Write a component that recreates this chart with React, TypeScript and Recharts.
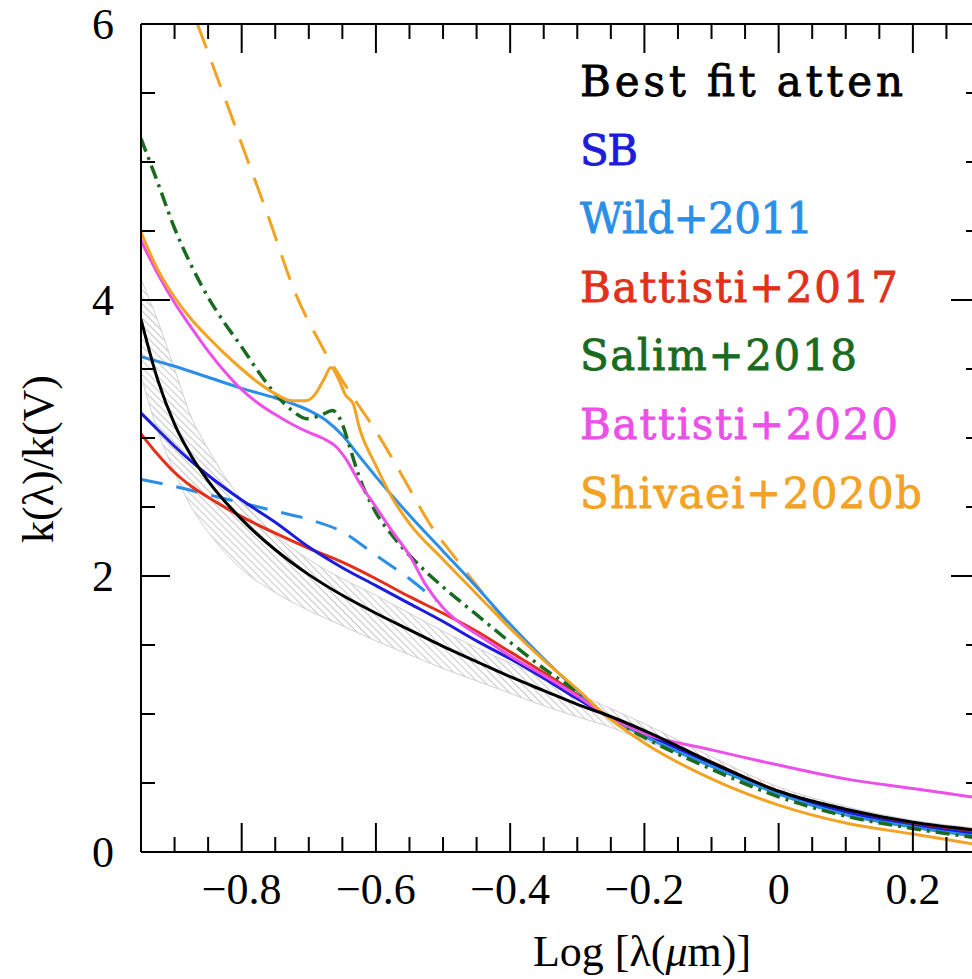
import React from 'react'
import { ComposedChart, Line, Area, XAxis, YAxis } from 'recharts'

// log10(lambda / micron) grid shared by the smoother curves
const gridX = [-0.95, -0.925, -0.9, -0.875, -0.85, -0.8, -0.75, -0.7, -0.65, -0.6, -0.55, -0.5, -0.45, -0.4, -0.35, -0.3, -0.26, -0.2, -0.1, 0, 0.1, 0.2, 0.3]

// best fit attenuation curve and its hatched range
const bestFit = [3.86, 3.42, 3.1, 2.87, 2.69, 2.41, 2.19, 2.01, 1.86, 1.73, 1.61, 1.49, 1.38, 1.27, 1.17, 1.07, 1.0, 0.88, 0.65, 0.44, 0.31, 0.215, 0.155]
const bandLow = [3.45, 3.05, 2.75, 2.5, 2.32, 2.05, 1.88, 1.75, 1.64, 1.53, 1.43, 1.33, 1.24, 1.15, 1.06, 0.98, 0.92, 0.81, 0.62, 0.42, 0.29, 0.2, 0.14]
const bandHigh = [4.15, 3.85, 3.5, 3.15, 2.92, 2.55, 2.3, 2.12, 1.98, 1.86, 1.73, 1.6, 1.48, 1.37, 1.26, 1.15, 1.06, 0.93, 0.69, 0.47, 0.33, 0.23, 0.17]

const sb = [3.18, 3.06, 2.94, 2.83, 2.73, 2.55, 2.39, 2.21, 2.06, 1.93, 1.8, 1.67, 1.53, 1.4, 1.26, 1.11, 1.0, 0.86, 0.64, 0.43, 0.29, 0.19, 0.13]
const battisti17 = [3.03, 2.88, 2.75, 2.65, 2.57, 2.43, 2.31, 2.2, 2.1, 1.98, 1.85, 1.73, 1.6, 1.45, 1.3, 1.14, 1.0, 0.86, 0.65, 0.44, 0.3, 0.2, 0.14]

const wildX = [-0.95, -0.9, -0.85, -0.8, -0.75, -0.725, -0.7, -0.675, -0.65, -0.625, -0.6, -0.55, -0.5, -0.45, -0.4, -0.35, -0.3, -0.26, -0.2, -0.1, 0, 0.1, 0.2, 0.3]
const wild = [3.59, 3.52, 3.44, 3.36, 3.29, 3.25, 3.2, 3.13, 3.02, 2.87, 2.72, 2.44, 2.18, 1.92, 1.65, 1.4, 1.17, 1.0, 0.84, 0.62, 0.42, 0.27, 0.18, 0.11]
const wildExtX = [-0.95, -0.9, -0.85, -0.8, -0.75, -0.7, -0.65, -0.6, -0.55, -0.51]
const wildExt = [2.7, 2.65, 2.59, 2.53, 2.47, 2.41, 2.32, 2.15, 1.98, 1.82]

const salimX = [-0.95, -0.925, -0.9, -0.875, -0.85, -0.825, -0.8, -0.775, -0.75, -0.725, -0.703, -0.68, -0.665, -0.65, -0.64, -0.625, -0.6, -0.575, -0.55, -0.5, -0.45, -0.4, -0.35, -0.3, -0.26, -0.2, -0.1, 0, 0.1, 0.2, 0.3]
const salim = [5.17, 4.85, 4.52, 4.25, 4.02, 3.83, 3.66, 3.48, 3.32, 3.2, 3.14, 3.17, 3.2, 3.1, 2.95, 2.72, 2.46, 2.29, 2.15, 1.92, 1.72, 1.52, 1.33, 1.16, 1.0, 0.83, 0.6, 0.4, 0.26, 0.17, 0.1]

const battisti20X = [-0.95, -0.925, -0.9, -0.875, -0.85, -0.825, -0.8, -0.775, -0.75, -0.725, -0.7, -0.68, -0.66, -0.645, -0.625, -0.6, -0.575, -0.55, -0.525, -0.5, -0.475, -0.45, -0.425, -0.4, -0.35, -0.3, -0.26, -0.2, -0.1, 0, 0.1, 0.2, 0.3]
const battisti20 = [4.43, 4.19, 3.98, 3.8, 3.63, 3.48, 3.35, 3.25, 3.17, 3.1, 3.04, 3.0, 2.94, 2.85, 2.68, 2.5, 2.32, 2.15, 1.93, 1.77, 1.66, 1.58, 1.5, 1.42, 1.28, 1.13, 1.0, 0.86, 0.74, 0.63, 0.53, 0.46, 0.39]

const shivaeiX = [-0.95, -0.925, -0.9, -0.875, -0.85, -0.825, -0.8, -0.775, -0.75, -0.725, -0.705, -0.69, -0.678, -0.667, -0.655, -0.645, -0.639, -0.634, -0.625, -0.6, -0.575, -0.55, -0.5, -0.45, -0.4, -0.35, -0.3, -0.26, -0.2, -0.1, 0, 0.1, 0.2, 0.3]
const shivaei = [4.49, 4.22, 4.02, 3.86, 3.73, 3.61, 3.5, 3.4, 3.32, 3.27, 3.27, 3.32, 3.42, 3.51, 3.42, 3.31, 3.28, 3.25, 3.08, 2.8, 2.56, 2.38, 2.12, 1.87, 1.62, 1.39, 1.18, 1.0, 0.79, 0.53, 0.34, 0.21, 0.13, 0.05]
const shivaeiExtX = [-0.866, -0.84, -0.8, -0.76, -0.72, -0.68, -0.64, -0.6, -0.56, -0.52, -0.48, -0.44, -0.405]
const shivaeiExt = [6.0, 5.66, 5.13, 4.6, 4.05, 3.66, 3.34, 3.05, 2.72, 2.38, 2.12, 1.87, 1.66]

const xMajor = [-0.8, -0.6, -0.4, -0.2, 0, 0.2]
const xTicks = [-0.9, -0.85, -0.8, -0.75, -0.7, -0.65, -0.6, -0.55, -0.5, -0.45, -0.4, -0.35, -0.3, -0.25, -0.2, -0.15, -0.1, -0.05, 0, 0.05, 0.1, 0.15, 0.2, 0.25]
const yMajor = [0, 2, 4, 6]
const yTicks = [0, 0.5, 1, 1.5, 2, 2.5, 3, 3.5, 4, 4.5, 5, 5.5, 6]

const legendLabels = ['Best fit atten', 'SB', 'Wild+2011', 'Battisti+2017', 'Salim+2018', 'Battisti+2020', 'Shivaei+2020b']
const legendColors = ['#000000', '#1c1cdc', '#2b8fe6', '#e2301a', '#1a6b1f', '#ec50e8', '#f3a324']
// rendered width of each legend line in the original figure font
const legendWidths = [323, 58, 233, 318, 277, 318, 342]

const pts = (xs: number[], ys: number[]) => xs.map((x, i) => ({ x, y: ys[i] }))
const bandData = gridX.map((x, i) => ({ x, band: [bandLow[i], bandHigh[i]] }))

const SERIF = '"Liberation Serif", "Times New Roman", serif'
const isMajor = (v: number, majors: number[]) => majors.some((m) => Math.abs(m - v) < 1e-6)
const fmt = (v: number) => (v < 0 ? '\u2212' + Math.abs(v) : String(v))

const BottomTick = (props: any) => {
  const { x, y, payload } = props
  const major = isMajor(payload.value, xMajor)
  return (
    <g>
      <line x1={x} x2={x} y1={y} y2={y - (major ? 29 : 15)} stroke="#000" strokeWidth={2} />
      {major && (
        <text x={x} y={y + 52} textAnchor="middle" fontFamily={SERIF} fontSize={44} fill="#000">
          {fmt(payload.value)}
        </text>
      )}
    </g>
  )
}

const TopTick = (props: any) => {
  const { x, y, payload } = props
  const major = isMajor(payload.value, xMajor)
  return <line x1={x} x2={x} y1={y} y2={y + (major ? 29 : 15)} stroke="#000" strokeWidth={2} />
}

const LeftTick = (props: any) => {
  const { x, y, payload } = props
  const major = isMajor(payload.value, yMajor)
  return (
    <g>
      <line x1={x} x2={x + (major ? 29 : 14)} y1={y} y2={y} stroke="#000" strokeWidth={2} />
      {major && (
        <text x={x - 27} y={y + 15} textAnchor="end" fontFamily={SERIF} fontSize={44} fill="#000">
          {payload.value}
        </text>
      )}
    </g>
  )
}

const RightTick = (props: any) => {
  const { x, y, payload } = props
  const major = isMajor(payload.value, yMajor)
  return <line x1={x} x2={x - (major ? 29 : 14)} y1={y} y2={y} stroke="#000" strokeWidth={2} />
}

export default function App() {
  const axisLine = { stroke: '#000', strokeWidth: 2 }
  return (
    <div style={{ position: 'absolute', left: 0, top: 0, width: 972, height: 979, overflow: 'hidden', background: '#fff' }}>
      <ComposedChart width={1000} height={979} margin={{ top: 0, right: 0, bottom: 0, left: 0 }}>
        <defs>
          <pattern id="hatch" patternUnits="userSpaceOnUse" width="5" height="5" patternTransform="rotate(-45)">
            <line x1="0" y1="0" x2="0" y2="5" stroke="#a8a8a8" strokeWidth="1.3" />
          </pattern>
        </defs>
        <XAxis dataKey="x" type="number" domain={[-0.95, 0.3]} allowDataOverflow ticks={xTicks} interval={0}
          height={127} tickLine={false} tickSize={0} tickMargin={0} axisLine={axisLine} tick={<BottomTick />} />
        <XAxis xAxisId="top" orientation="top" dataKey="x" type="number" domain={[-0.95, 0.3]} allowDataOverflow ticks={xTicks} interval={0}
          height={24} tickLine={false} tickSize={0} tickMargin={0} axisLine={axisLine} tick={<TopTick />} />
        <YAxis type="number" domain={[0, 6]} allowDataOverflow ticks={yTicks} interval={0}
          width={141} tickLine={false} tickSize={0} tickMargin={0} axisLine={axisLine} tick={<LeftTick />} />
        <YAxis yAxisId="right" orientation="right" type="number" domain={[0, 6]} allowDataOverflow ticks={yTicks} interval={0}
          width={20} tickLine={false} tickSize={0} tickMargin={0} axisLine={axisLine} tick={<RightTick />} />

        <Area data={bandData} dataKey="band" type="monotone" fill="url(#hatch)" fillOpacity={1}
          stroke="#d0d0d0" strokeWidth={1} isAnimationActive={false} dot={false} activeDot={false} />

        <Line data={pts(wildExtX, wildExt)} dataKey="y" type="monotone" stroke="#2b8fe6" strokeWidth={3}
          strokeDasharray="22 14" dot={false} activeDot={false} isAnimationActive={false} />
        <Line data={pts(shivaeiExtX, shivaeiExt)} dataKey="y" type="monotone" stroke="#f3a324" strokeWidth={3}
          strokeDasharray="26 15" dot={false} activeDot={false} isAnimationActive={false} />
        <Line data={pts(gridX, battisti17)} dataKey="y" type="monotone" stroke="#e2301a" strokeWidth={3}
          dot={false} activeDot={false} isAnimationActive={false} />
        <Line data={pts(gridX, sb)} dataKey="y" type="monotone" stroke="#1c1cdc" strokeWidth={3}
          dot={false} activeDot={false} isAnimationActive={false} />
        <Line data={pts(wildX, wild)} dataKey="y" type="monotone" stroke="#2b8fe6" strokeWidth={3}
          dot={false} activeDot={false} isAnimationActive={false} />
        <Line data={pts(salimX, salim)} dataKey="y" type="monotone" stroke="#1a6b1f" strokeWidth={3.5}
          strokeDasharray="14 6 3 6" dot={false} activeDot={false} isAnimationActive={false} />
        <Line data={pts(battisti20X, battisti20)} dataKey="y" type="monotone" stroke="#ec50e8" strokeWidth={3}
          dot={false} activeDot={false} isAnimationActive={false} />
        <Line data={pts(shivaeiX, shivaei)} dataKey="y" type="monotone" stroke="#f3a324" strokeWidth={3}
          dot={false} activeDot={false} isAnimationActive={false} />
        <Line data={pts(gridX, bestFit)} dataKey="y" type="monotone" stroke="#000000" strokeWidth={3}
          dot={false} activeDot={false} isAnimationActive={false} />
      </ComposedChart>

      <svg width={972} height={979} style={{ position: 'absolute', left: 0, top: 0, pointerEvents: 'none' }}>
        {legendLabels.map((label, i) => (
          <text key={label} x={580} y={96 + i * 68.6} fontFamily='"DejaVu Serif", serif' fontSize={42}
            fill={legendColors[i]} stroke={legendColors[i]} strokeWidth={0.8}
            textLength={legendWidths[i]} lengthAdjust="spacing">
            {label}
          </text>
        ))}
        <text x={642} y={966} textAnchor="middle" fontFamily={SERIF} fontSize={44} fill="#000">
          Log [λ(<tspan fontStyle="italic">μ</tspan>m)]
        </text>
        <text transform="translate(53,459) rotate(-90)" textAnchor="middle" fontFamily={SERIF} fontSize={44} fill="#000">
          k(λ)/k(V)
        </text>
      </svg>
    </div>
  )
}
